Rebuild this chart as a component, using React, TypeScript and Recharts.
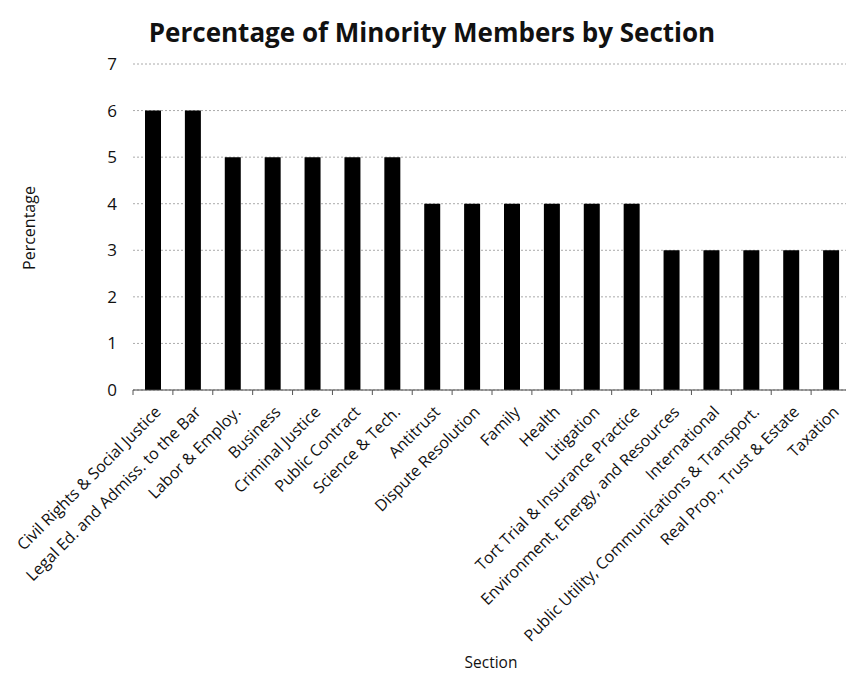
import React from "react";
import { BarChart, Bar, XAxis, YAxis, CartesianGrid } from "recharts";

// ── Data ──
const sections = [
  "Civil Rights & Social Justice",
  "Legal Ed. and Admiss. to the Bar",
  "Labor & Employ.",
  "Business",
  "Criminal Justice",
  "Public Contract",
  "Science & Tech.",
  "Antitrust",
  "Dispute Resolution",
  "Family",
  "Health",
  "Litigation",
  "Tort Trial & Insurance Practice",
  "Environment, Energy, and Resources",
  "International",
  "Public Utility, Communications & Transport.",
  "Real Prop., Trust & Estate",
  "Taxation",
];
const percentages = [6, 6, 5, 5, 5, 5, 5, 4, 4, 4, 4, 4, 4, 3, 3, 3, 3, 3];
const yTicks = [0, 1, 2, 3, 4, 5, 6, 7];

const data = sections.map((name, i) => ({ name, value: percentages[i] }));

const FONT = "'Open Sans', sans-serif";
const W = 846;
const H = 673;
const TOP = 64;
const RIGHT = -5; // plot area runs slightly past the picture edge, as in the scan
const X_AXIS_H = 283;
const Y_AXIS_W = 133;
const band = (W - Y_AXIS_W - RIGHT) / sections.length;

// ── Rotated category label + Excel-style tick between categories ──
function SectionTick({ x, y, payload }: { x?: number; y?: number; payload?: { value: string } }) {
  const cx = x || 0;
  const cy = y || 0;
  const tx = cx + 9;
  const ty = cy + 15;
  return (
    <g>
      <line x1={cx - band / 2} x2={cx - band / 2} y1={cy - 8} y2={cy - 3} stroke="#555" />
      <text
        x={tx}
        y={ty}
        transform={`rotate(-45, ${tx}, ${ty})`}
        textAnchor="end"
        fontSize={16}
        fontFamily={FONT}
        fill="#111"
      >
        {payload?.value}
      </text>
    </g>
  );
}

export default function App() {
  return (
    <div style={{ position: "absolute", left: 0, top: 0, width: W, height: H, background: "#fff", overflow: "hidden" }}>
      <BarChart width={W} height={H} data={data} margin={{ top: TOP, right: RIGHT, bottom: 0, left: 0 }}>
        <text x={432} y={42} textAnchor="middle" fontSize={26} fontWeight="bold" fontFamily={FONT} fill="#111">
          Percentage of Minority Members by Section
        </text>
        <text
          x={35}
          y={228}
          transform="rotate(-90, 35, 228)"
          textAnchor="middle"
          fontSize={16}
          fontFamily={FONT}
          fill="#111"
        >
          Percentage
        </text>
        <text x={491} y={668} textAnchor="middle" fontSize={15.5} fontFamily={FONT} fill="#111">
          Section
        </text>
        <CartesianGrid vertical={false} stroke="#aaa" strokeDasharray="2 2" />
        <XAxis
          dataKey="name"
          interval={0}
          tickLine={false}
          axisLine={{ stroke: "#444" }}
          tick={<SectionTick />}
          height={X_AXIS_H}
        />
        <YAxis
          domain={[0, 7]}
          ticks={yTicks}
          width={Y_AXIS_W}
          axisLine={false}
          tickLine={false}
          tickMargin={10}
          tick={{ fontSize: 17, fontFamily: FONT, fill: "#111" }}
        />
        <Bar dataKey="value" fill="#000" barSize={16} isAnimationActive={false} />
      </BarChart>
    </div>
  );
}
